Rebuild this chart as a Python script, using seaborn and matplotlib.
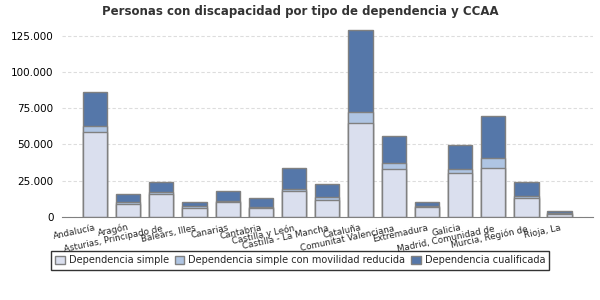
import matplotlib
matplotlib.use("Agg")
import matplotlib.pyplot as plt
import matplotlib.ticker as mticker
from matplotlib.patches import Patch
from matplotlib.transforms import offset_copy
import numpy as np
import pandas as pd
import seaborn as sns

ccaa = ["Andalucía", "Aragón", "Asturias, Principado de", "Balears, Illes", "Canarias",
        "Cantabria", "Castilla y León", "Castilla - La Mancha", "Cataluña",
        "Comunitat Valenciana", "Extremadura", "Galicia", "Madrid, Comunidad de",
        "Murcia, Región de", "Rioja, La"]
simple = [58700, 9000, 15900, 6200, 10400, 6200, 18000, 11700, 64900, 33100, 6900, 30400, 33800, 13100, 2000]
movilidad = [3900, 1400, 1400, 1400, 600, 700, 1300, 2100, 7600, 4200, 700, 2700, 6900, 1400, 800]
cualificada = [23400, 5500, 6900, 2800, 7000, 6200, 14500, 9000, 56600, 18600, 2800, 16600, 29000, 9700, 1300]

series = ["Dependencia simple", "Dependencia simple con movilidad reducida", "Dependencia cualificada"]
colores = ["#DADFEE", "#AFC5E3", "#5577A9"]

df = pd.DataFrame({"ccaa": ccaa, "s": simple, "m": movilidad, "c": cualificada})
df["s_m"] = df["s"] + df["m"]
df["total"] = df["s_m"] + df["c"]

sns.set_style("white")
plt.rcParams["font.family"] = ["DejaVu Sans"]

fig = plt.figure(figsize=(6, 3), dpi=100)
ax = fig.add_axes([0.103, 0.277, 0.885, 0.633])

# barras apiladas: se dibuja el total primero y encima los acumulados menores
for col, color in zip(["total", "s_m", "s"], colores[::-1]):
    sns.barplot(data=df, x="ccaa", y=col, color=color, edgecolor="#808080",
                linewidth=1, width=0.73, saturation=1, ax=ax)

ax.set_xlim(-1, len(ccaa))
ax.set_ylim(0, 131000)
ax.set_yticks(np.arange(0, 125001, 25000))
ax.yaxis.set_major_formatter(mticker.FuncFormatter(lambda v, p: f"{int(v):,}".replace(",", ".")))
ax.grid(axis="y", color="#DDDDDD", linestyle=(0, (3, 2)), linewidth=0.8)
ax.set_axisbelow(True)
for s in ["top", "right", "left"]:
    ax.spines[s].set_visible(False)
ax.spines["bottom"].set_color("#808080")
ax.set_xlabel("")
ax.set_ylabel("")
ax.tick_params(axis="y", labelsize=7.5, length=0, pad=6, colors="#000000")
ax.tick_params(axis="x", length=0, labelbottom=False)

# etiquetas inclinadas, las largas quedan un poco más abajo
for i, nombre in enumerate(ccaa):
    tr = offset_copy(ax.get_xaxis_transform(), fig=fig, x=0, y=-(5 + 0.12 * len(nombre)) * 0.72,
                     units="points")
    ax.text(i, 0, nombre, transform=tr, rotation=12, ha="right", va="top",
            rotation_mode="anchor", fontsize=6.3)

fig.suptitle("Personas con discapacidad por tipo de dependencia y CCAA", fontsize=8.5,
             fontweight="bold", color="#333333", y=0.985, x=0.5)

handles = [Patch(facecolor=c, edgecolor="#808080", label=l) for c, l in zip(colores, series)]
leg = fig.legend(handles=handles, loc="center", bbox_to_anchor=(0.5, 0.132), ncol=3,
                 fontsize=7, frameon=True, fancybox=False, handlelength=1, handleheight=1,
                 handletextpad=0.4, columnspacing=0.6, borderpad=0.45)
leg.get_frame().set_edgecolor("#000000")
leg.get_frame().set_linewidth(1)

fig.savefig("out.png", dpi=100)
